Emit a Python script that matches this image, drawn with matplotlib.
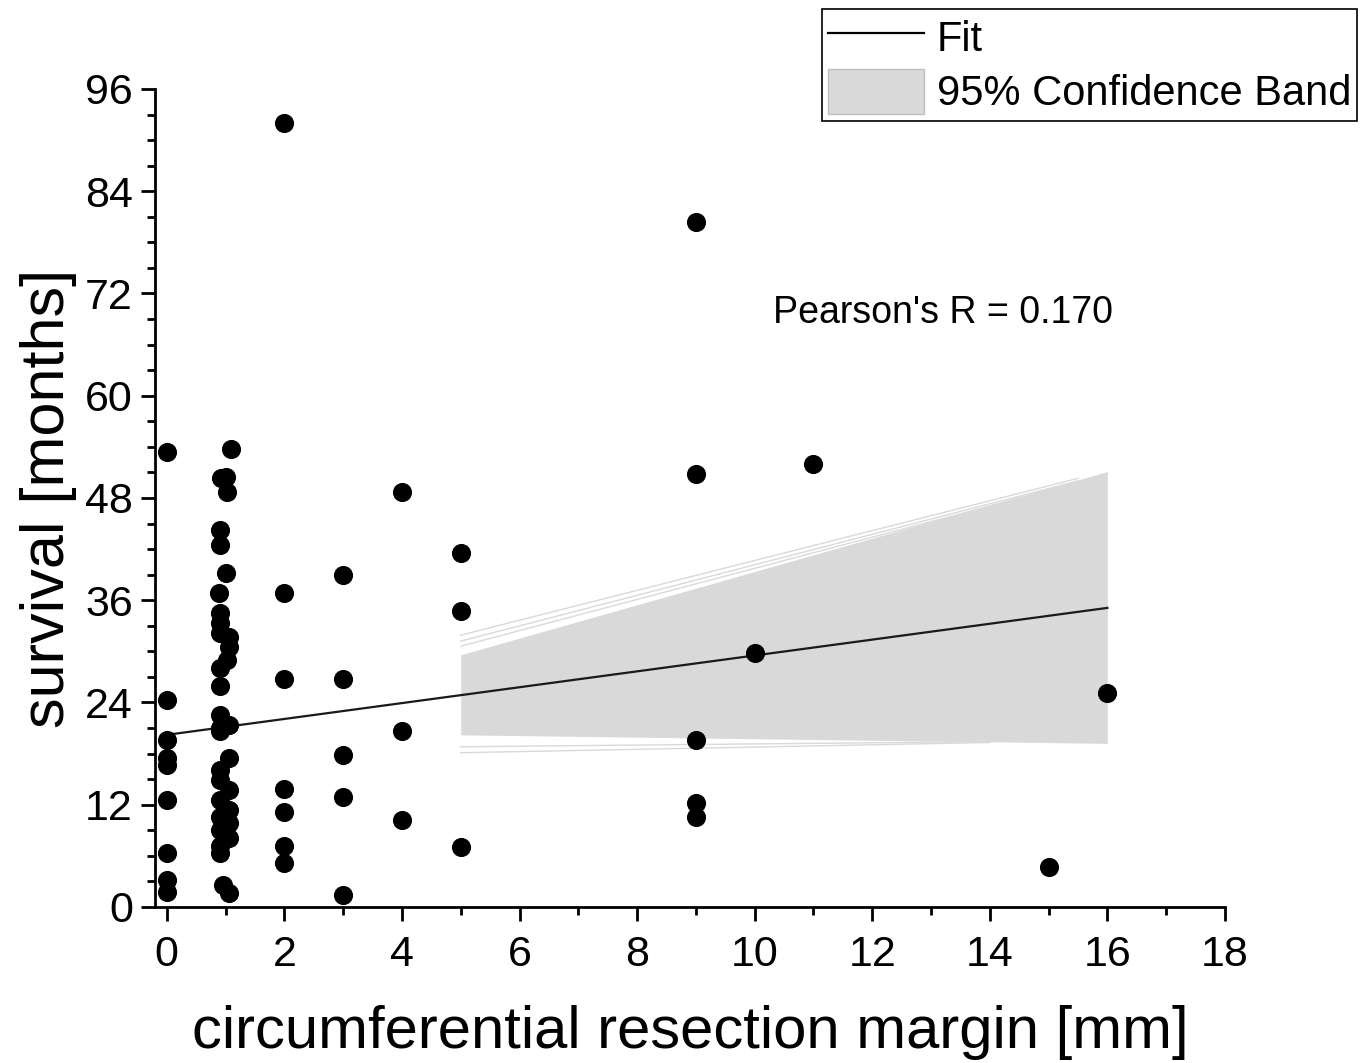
import matplotlib
matplotlib.use("Agg")
import matplotlib.pyplot as plt
from matplotlib.patches import Patch
from matplotlib.lines import Line2D
from matplotlib.ticker import MultipleLocator

plt.rcParams["font.family"] = ["Liberation Sans", "DejaVu Sans"]

# ── data ───────────────────────────────────────────────────────────────────
margin_mm = [
    0, 0, 0, 0, 0, 0, 0, 0, 0,
    1.1, 0.92, 1.0, 1.03, 0.9, 0.9, 1.01, 0.89, 0.9, 0.9, 0.9, 1.05, 1.05,
    1.03, 0.9, 0.9, 0.9, 1.05, 0.9, 0.9, 1.05, 0.9, 0.9, 1.05, 0.9, 1.05,
    0.9, 1.05, 0.9, 1.05, 0.9, 0.9, 0.95, 1.05,
    2, 2, 2, 2, 2, 2, 2,
    3, 3, 3, 3, 3,
    4, 4, 4,
    5, 5, 5,
    9, 9, 9, 9, 9,
    10, 11, 15, 16,
]
survival_months = [
    53.4, 24.3, 19.6, 17.5, 16.7, 12.5, 6.3, 3.2, 1.8,
    53.8, 50.3, 50.5, 48.7, 44.2, 42.5, 39.2, 36.8, 34.5, 33.3, 32.1, 31.7, 30.5,
    29.0, 28.0, 25.9, 22.5, 21.4, 21.0, 20.6, 17.5, 16.1, 14.9, 13.7, 12.6, 11.4,
    10.6, 9.9, 9.0, 8.1, 7.1, 6.3, 2.6, 1.6,
    92.0, 36.8, 26.8, 13.8, 11.2, 7.1, 5.2,
    39.0, 26.7, 17.8, 12.9, 1.4,
    48.7, 20.6, 10.2,
    41.5, 34.7, 7.0,
    80.4, 50.8, 19.6, 12.2, 10.6,
    29.8, 52.0, 4.7, 25.1,
]

fit_x = [0, 16]
fit_y = [20.2, 35.1]

band_x = [5, 16]
band_lo = [20.2, 19.2]
band_hi = [29.6, 51.1]

# faint rendering streaks around the band edges
streak_x = [5, 15.5]
streaks = [[31.9, 50.3], [31.2, 50.0], [30.6, 49.8]]
low_streak_x = [5, 14]
low_streaks = [[18.1, 19.3], [18.8, 19.4]]

pearson_text = "Pearson's R = 0.170"

# ── plot ───────────────────────────────────────────────────────────────────
fig = plt.figure(figsize=(13.67, 10.63), dpi=100)
ax = fig.add_axes([0.1134, 0.1468, 0.7827, 0.7695])

BAND = "#d9d9d9"
ax.fill_between(band_x, band_lo, band_hi, color=BAND, linewidth=0, zorder=1)
for s in streaks:
    ax.plot(streak_x, s, color=BAND, linewidth=1.0, zorder=1)
for s in low_streaks:
    ax.plot(low_streak_x, s, color=BAND, linewidth=1.0, zorder=1)

ax.plot(fit_x, fit_y, color="#1a1a1a", linewidth=1.6, zorder=3)
ax.scatter(margin_mm, survival_months, s=190, color="black", linewidths=0, zorder=4)

ax.text(13.2, 69.7, pearson_text, fontsize=27, ha="center", va="center")

ax.set_xlim(-0.2, 18)
ax.set_ylim(0, 96)
ax.xaxis.set_major_locator(MultipleLocator(2))
ax.xaxis.set_minor_locator(MultipleLocator(1))
ax.yaxis.set_major_locator(MultipleLocator(12))
ax.yaxis.set_minor_locator(MultipleLocator(3))

for side in ("top", "right"):
    ax.spines[side].set_visible(False)
for side in ("left", "bottom"):
    ax.spines[side].set_linewidth(2)

ax.tick_params(which="major", length=10, width=2, labelsize=31)
ax.tick_params(axis="x", which="major", pad=10)
ax.tick_params(axis="y", which="major", pad=6)
ax.tick_params(which="minor", length=6, width=2)

ax.set_xlabel("circumferential resection margin [mm]", fontsize=43, labelpad=22)
ax.set_ylabel("survival [months]", fontsize=44, labelpad=6)

handles = [
    Line2D([0], [0], color="black", linewidth=1.6),
    Patch(facecolor=BAND, edgecolor="#bdbdbd", linewidth=1),
]
leg = fig.legend(handles, ["Fit", "95% Confidence Band"], loc="upper right",
                 bbox_to_anchor=(0.993, 0.992), fontsize=30, frameon=True,
                 fancybox=False, edgecolor="black", framealpha=1,
                 borderpad=0.15, labelspacing=0.2, handlelength=2.3,
                 handleheight=1.3, handletextpad=0.3, borderaxespad=0)
leg.get_frame().set_linewidth(1.2)

fig.savefig("out.png", dpi=100)
